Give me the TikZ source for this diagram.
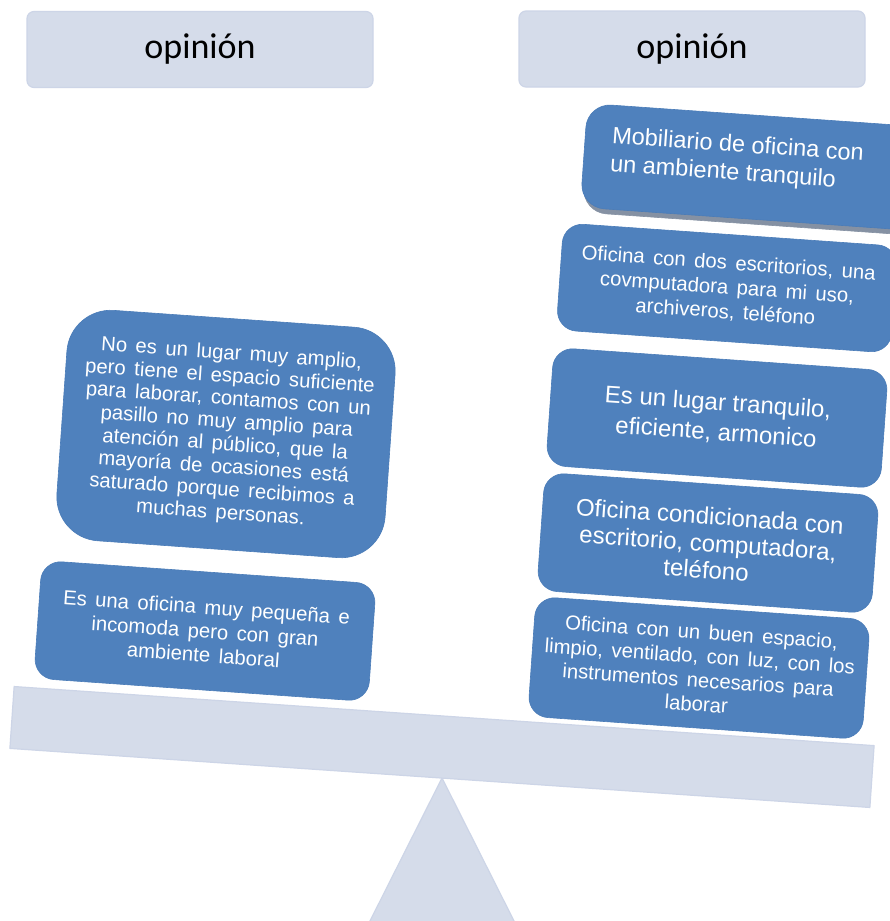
\documentclass[tikz,border=0pt]{standalone}
\usepackage{fontspec}
\setmainfont{Liberation Sans}
\newfontfamily\titlefont{Carlito}
\newfontfamily\widefont[WordSpace=1.5]{Liberation Sans}
\definecolor{titlefill}{HTML}{D5DCEA}
\definecolor{titleedge}{HTML}{CDD5E7}
\definecolor{boxfill}{HTML}{4F81BD}
\definecolor{boxedge}{HTML}{4A7CB8}
\definecolor{shadowc}{HTML}{8591A3}
\begin{document}
\begin{tikzpicture}[x=1pt,y=-1pt,
  titlebox/.style={rectangle, rounded corners=7pt, fill=titlefill, draw=titleedge,
    line width=1.2pt, minimum width=346pt, minimum height=76pt, inner sep=0pt,
    font=\titlefont\fontsize{36}{40}\selectfont},
  bluebox/.style={rectangle, fill=boxfill, draw=boxedge, line width=0.6pt,
    inner sep=0pt, rotate=-4, text=white, align=center, minimum width=335pt},
  balancepart/.style={fill=titlefill, draw=titleedge, line width=1.2pt}]
\clip (0,0) rectangle (890,921);
\fill[white] (0,0) rectangle (890,921);

% fulcrum
\draw[balancepart] (442,778) -- (360.4,940) -- (523.6,940) -- cycle;
% beam
\node[balancepart, rectangle, rotate=-3.93, minimum width=862pt, minimum height=62pt,
  inner sep=0pt] (beam) at (442,747) {};

% titles
\node[titlebox] (titleL) at (200,49.5) {opinión};
\node[titlebox] (titleR) at (692,49) {opinión};

% left side
\node[bluebox, rounded corners=44pt, minimum width=329pt, minimum height=231pt,
  font=\widefont\fontsize{20.3}{22.8}\selectfont] (l1) at (226,434)
  {No es un lugar muy amplio,\\pero tiene el espacio suficiente\\para laborar, contamos con un\\pasillo no muy amplio para\\atención al público, que la\\mayoría de ocasiones está\\saturado porque recibimos a\\muchas personas.};
\node[bluebox, rounded corners=20pt, minimum height=118pt,
  font=\widefont\fontsize{20.3}{24}\selectfont] (l2) at (205,631)
  {Es una oficina muy pequeña e\\incomoda pero con gran\\ambiente laboral};

% right side
\node[bluebox, rounded corners=24pt, minimum height=104pt, fill=shadowc, draw=shadowc]
  (r1shadow) at (753,172) {};
\node[bluebox, rounded corners=24pt, minimum height=104pt] (r1) at (751,167) {};
\node[rotate=-4, text=white, align=left, inner sep=0pt,
  font=\fontsize{23.5}{28}\selectfont] (r1text) at (737,160)
  {Mobiliario de oficina con\\un ambiente tranquilo};
\node[bluebox, rounded corners=20pt, minimum height=107pt,
  font=\widefont\fontsize{20.3}{24.5}\selectfont] (r2) at (727,288)
  {Oficina con dos escritorios, una\\covmputadora para mi uso,\\archiveros, teléfono};
\node[bluebox, rounded corners=20pt, minimum height=118pt,
  font=\fontsize{24}{30}\selectfont] (r3) at (717,418)
  {Es un lugar tranquilo,\\eficiente, armonico};
\node[bluebox, rounded corners=20pt, minimum height=118pt,
  font=\fontsize{24}{27}\selectfont] (r4) at (708,543)
  {Oficina condicionada con\\escritorio, computadora,\\teléfono};
\node[bluebox, rounded corners=20pt, minimum height=120pt,
  font=\widefont\fontsize{20.3}{24}\selectfont] (r5) at (699,668)
  {Oficina con un buen espacio,\\limpio, ventilado, con luz, con los\\instrumentos necesarios para\\laborar};
\end{tikzpicture}
\end{document}
